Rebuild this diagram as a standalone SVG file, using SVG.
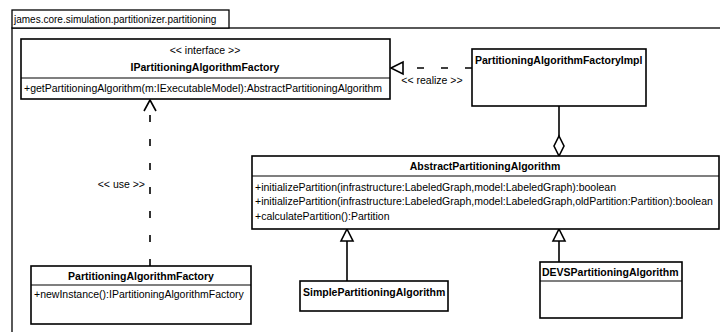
<svg xmlns="http://www.w3.org/2000/svg" width="720" height="332" viewBox="0 0 720 332">
  <style>
    .box { fill: #ffffff; stroke: #000000; stroke-width: 1.6; }
    .pkg { fill: #ffffff; stroke: #000000; stroke-width: 1.3; }
    .sep { stroke: #000000; stroke-width: 1.2; }
    text { font-family: "Liberation Sans", Arial, sans-serif; font-size: 10.5px; fill: #000000; }
    .pkgname { font-size: 10px; }
    .name { font-weight: bold; font-size: 10.5px; }
    .mid { text-anchor: middle; }
    .end { text-anchor: end; }
    .solid { fill: none; stroke: #000000; stroke-width: 1.6; }
    .dash { fill: none; stroke: #000000; stroke-width: 1.6; stroke-dasharray: 7 17; }
    .head { fill: #ffffff; stroke: #000000; stroke-width: 1.6; }
  </style>

  <!-- package frame -->
  <g id="package">
    <rect class="pkg" x="12" y="28" width="720" height="320"/>
    <rect class="pkg" x="12" y="10" width="217" height="18"/>
    <text class="pkgname" x="14" y="23">james.core.simulation.partitionizer.partitioning</text>
  </g>

  <!-- connectors -->
  <g id="connectors">
    <!-- realize: Impl -> interface -->
    <line class="dash" x1="472" y1="68" x2="403" y2="68"/>
    <polygon class="head" points="391,68 403,62 403,74"/>
    <text class="mid" x="432" y="84">&lt;&lt; realize &gt;&gt;</text>

    <!-- use: Factory -> interface -->
    <line class="dash" x1="150" y1="266" x2="150" y2="101"/>
    <polyline class="solid" points="144,111 150,100 156,111"/>
    <text class="end" x="145" y="188">&lt;&lt; use &gt;&gt;</text>

    <!-- aggregation: Impl <>- Abstract -->
    <line class="solid" x1="559" y1="106" x2="559" y2="136"/>
    <polygon class="head" points="559,136 564,146 559,156 554,146"/>

    <!-- generalizations -->
    <line class="solid" x1="347" y1="241" x2="347" y2="281"/>
    <polygon class="head" points="347,229 353,241 341,241"/>
    <line class="solid" x1="559" y1="241" x2="559" y2="262"/>
    <polygon class="head" points="559,229 565,241 553,241"/>
  </g>

  <g id="IPartitioningAlgorithmFactory">
    <rect class="box" x="21" y="39" width="369" height="60"/>
    <line class="sep" x1="21" y1="78" x2="390" y2="78"/>
    <text class="mid" x="205" y="54">&lt;&lt; interface &gt;&gt;</text>
    <text class="mid name" x="205" y="71">IPartitioningAlgorithmFactory</text>
    <text x="24" y="92">+getPartitioningAlgorithm(m:IExecutableModel):AbstractPartitioningAlgorithm</text>
  </g>

  <g id="PartitioningAlgorithmFactoryImpl">
    <rect class="box" x="472" y="49" width="174" height="57"/>
    <text class="name" x="475" y="64">PartitioningAlgorithmFactoryImpl</text>
  </g>

  <g id="AbstractPartitioningAlgorithm">
    <rect class="box" x="252" y="156" width="467" height="73"/>
    <line class="sep" x1="252" y1="176" x2="719" y2="176"/>
    <text class="mid name" x="485" y="170">AbstractPartitioningAlgorithm</text>
    <text x="255" y="191">+initializePartition(infrastructure:LabeledGraph,model:LabeledGraph):boolean</text>
    <text x="255" y="205">+initializePartition(infrastructure:LabeledGraph,model:LabeledGraph,oldPartition:Partition):boolean</text>
    <text x="255" y="220">+calculatePartition():Partition</text>
  </g>

  <g id="PartitioningAlgorithmFactory">
    <rect class="box" x="31" y="266" width="220" height="58"/>
    <line class="sep" x1="31" y1="285" x2="251" y2="285"/>
    <text class="mid name" x="141" y="280">PartitioningAlgorithmFactory</text>
    <text x="34" y="298">+newInstance():IPartitioningAlgorithmFactory</text>
  </g>

  <g id="SimplePartitioningAlgorithm">
    <rect class="box" x="300" y="281" width="148" height="30"/>
    <text class="name" x="303" y="296">SimplePartitioningAlgorithm</text>
  </g>

  <g id="DEVSPartitioningAlgorithm">
    <rect class="box" x="540" y="262" width="142" height="56"/>
    <line class="sep" x1="540" y1="281" x2="682" y2="281"/>
    <text class="name" x="542" y="276">DEVSPartitioningAlgorithm</text>
  </g>
</svg>
